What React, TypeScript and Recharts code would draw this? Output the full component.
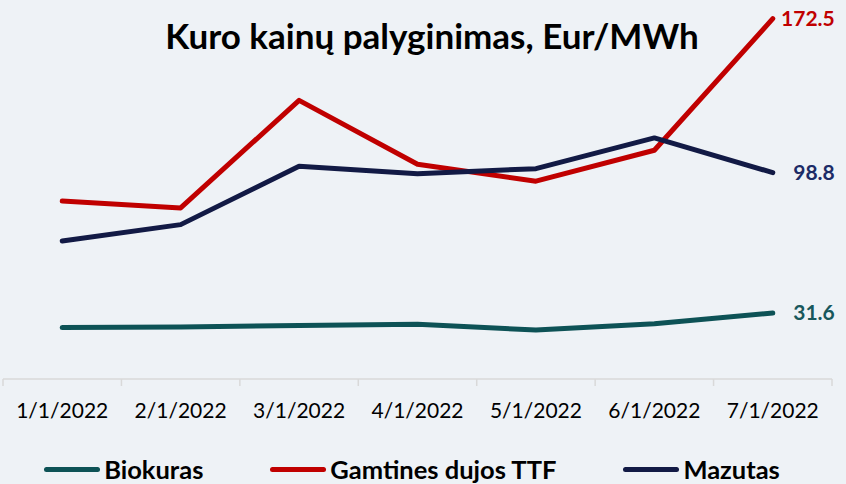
import React from 'react';
import { LineChart, Line, XAxis, YAxis, Legend, LabelList } from 'recharts';

const categories = ['1/1/2022', '2/1/2022', '3/1/2022', '4/1/2022', '5/1/2022', '6/1/2022', '7/1/2022'];
const biokuras = [24.6, 24.9, 25.6, 26.2, 23.4, 26.5, 31.6];
const gamtinesDujos = [85.2, 81.9, 133.4, 102.8, 94.7, 109.5, 172.5];
const mazutas = [66.1, 73.9, 101.8, 98.3, 100.7, 115.4, 98.8];
const seriesNames = ['Biokuras', 'Gamtines dujos TTF', 'Mazutas'];
const title = 'Kuro kainų palyginimas, Eur/MWh';

const COLORS = {
  bio: '#0d5256',
  gas: '#c00000',
  maz: '#121a45',
};
const LABEL_COLORS = {
  bio: '#18585c',
  gas: '#c00000',
  maz: '#1c2b66',
};

const data = categories.map((c, i) => ({
  i,
  label: c,
  bio: biokuras[i],
  gas: gamtinesDujos[i],
  maz: mazutas[i],
}));

// category centres (labels) and band boundaries (tick marks)
const xTicks: number[] = categories
  .flatMap((_, i) => [i - 0.5, i])
  .concat(categories.length - 0.5);

const FONT = 'Lato, "Open Sans", sans-serif';

const AxisTick = (props: any) => {
  const { x, y, payload } = props;
  const v = payload.value;
  if (Number.isInteger(v)) {
    return (
      <text x={x} y={y + 39} textAnchor="middle" fontFamily={FONT} fontSize={21} fill="#000">
        {categories[v]}
      </text>
    );
  }
  return <line x1={x} x2={x} y1={y} y2={y + 7} stroke="#d9d9d9" strokeWidth={1.5} />;
};

const endLabel = (color: string) => (props: any) => {
  const { x, y, value, index } = props;
  if (index !== categories.length - 1) return null;
  return (
    <text x={x + 62} y={y + 7} textAnchor="end" fontFamily={FONT} fontWeight={700} fontSize={21} fill={color}>
      {Number(value).toFixed(1)}
    </text>
  );
};

const LegendContent = () => {
  const items = [
    { name: seriesNames[0], color: COLORS.bio },
    { name: seriesNames[1], color: COLORS.gas },
    { name: seriesNames[2], color: COLORS.maz },
  ];
  return (
    <div
      style={{
        height: 30,
        display: 'flex',
        justifyContent: 'center',
        alignItems: 'center',
        gap: 67,
        paddingRight: 22,
        fontFamily: FONT,
        fontWeight: 700,
        fontSize: 25.5,
        color: '#000',
      }}
    >
      {items.map((it) => (
        <div key={it.name} style={{ display: 'flex', alignItems: 'center', whiteSpace: 'nowrap' }}>
          <div style={{ width: 56, height: 5, borderRadius: 3, background: it.color, marginRight: 4 }} />
          <span>{it.name}</span>
        </div>
      ))}
    </div>
  );
};

export default function App() {
  return (
    <div style={{ position: 'absolute', left: 0, top: 0, width: 846, height: 484, background: '#eef2f6', overflow: 'hidden' }}>
      <div
        style={{
          position: 'absolute',
          left: 432,
          top: 18,
          transform: 'translateX(-50%)',
          whiteSpace: 'nowrap',
          fontFamily: FONT,
          fontWeight: 700,
          fontSize: 35,
          lineHeight: 1,
          color: '#000',
          zIndex: 2,
        }}
      >
        {title}
      </div>
      <LineChart width={846} height={484} data={data} margin={{ top: 3, right: 14, left: 3, bottom: 0 }}>
        <XAxis
          dataKey="i"
          type="number"
          domain={[-0.5, categories.length - 0.5]}
          ticks={xTicks}
          interval={0}
          height={75}
          tickSize={0}
          tickMargin={0}
          tickLine={false}
          axisLine={{ stroke: '#d9d9d9', strokeWidth: 1.5 }}
          tick={AxisTick}
        />
        <YAxis hide domain={[0, 180]} />
        <Legend verticalAlign="bottom" content={LegendContent} wrapperStyle={{ left: 0, width: 846, bottom: 0 }} />
        <Line dataKey="bio" name={seriesNames[0]} stroke={COLORS.bio} strokeWidth={5} strokeLinecap="round" strokeLinejoin="round" dot={false} isAnimationActive={false}>
          <LabelList dataKey="bio" content={endLabel(LABEL_COLORS.bio)} />
        </Line>
        <Line dataKey="gas" name={seriesNames[1]} stroke={COLORS.gas} strokeWidth={5} strokeLinecap="round" strokeLinejoin="round" dot={false} isAnimationActive={false}>
          <LabelList dataKey="gas" content={endLabel(LABEL_COLORS.gas)} />
        </Line>
        <Line dataKey="maz" name={seriesNames[2]} stroke={COLORS.maz} strokeWidth={5} strokeLinecap="round" strokeLinejoin="round" dot={false} isAnimationActive={false}>
          <LabelList dataKey="maz" content={endLabel(LABEL_COLORS.maz)} />
        </Line>
      </LineChart>
    </div>
  );
}
